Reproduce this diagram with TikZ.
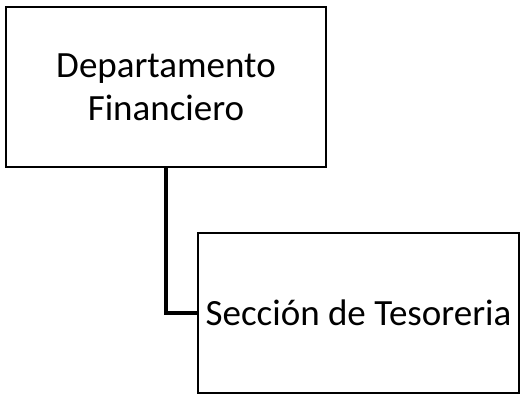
\documentclass[tikz,border=0pt]{standalone}
\usepackage{fontspec}
\setmainfont{Carlito}
\usetikzlibrary{shadows}

\tikzset{
    caja/.style={draw, line width=1.3pt, fill=white, minimum width=320pt, minimum height=160pt,
        align=center, font=\fontsize{37}{43}\selectfont,
        drop shadow={shadow xshift=1.2pt, shadow yshift=-1.5pt, opacity=0.35}},
    enlace/.style={line width=4pt}
}

\begin{document}
\begin{tikzpicture}[x=1pt, y=-1pt]
    \useasboundingbox (0,0) rectangle (523,395);

    \node[caja] (dep) at (166,87) {Departamento\\Financiero};
    \node[caja, minimum width=321pt] (sec) at (358.5,313) {Sección de Tesoreria};

    \draw[enlace] (dep.south) |- (sec.west);

\end{tikzpicture}
\end{document}
